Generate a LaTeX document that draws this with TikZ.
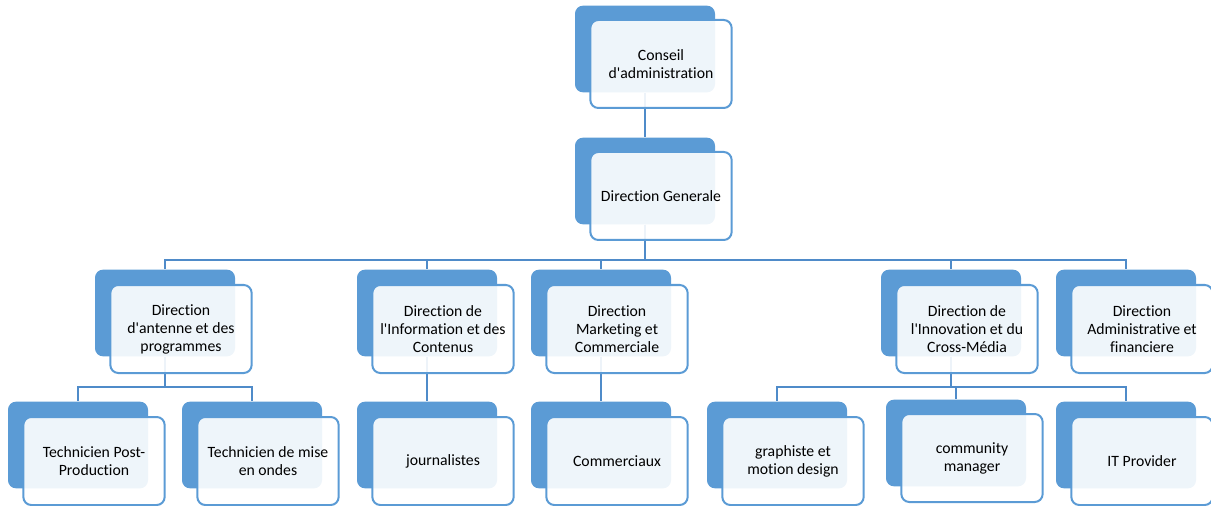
\documentclass[tikz,border=0pt]{standalone}
\usepackage{fontspec}
\setmainfont{Carlito}[Ligatures={NoCommon,TeXOff}]
\usetikzlibrary{backgrounds}

\definecolor{boxblue}{HTML}{5B9BD5}
\definecolor{linkblue}{HTML}{4F8BC9}

\tikzset{
  backbox/.style={fill=boxblue, rounded corners=6pt, minimum width=105pt,
    minimum height=65pt, inner sep=0pt},
  frontbox/.style={draw=boxblue, line width=1.5pt, fill=white, fill opacity=0.9,
    text opacity=1, rounded corners=6pt, minimum width=106pt, minimum height=66pt,
    inner sep=0pt, align=center, font=\fontsize{11.8}{13.5}\selectfont},
  link/.style={draw=linkblue, line width=1.5pt}
}

\begin{document}
\begin{tikzpicture}[x=0.75pt,y=-0.75pt]
        \useasboundingbox (0,0) rectangle (1211,506);

        % top
        \node[backbox] (ca) at (645,49) {};
        \node[frontbox] (ca-t) at (661,64) {Conseil\\d'administration};
        \node[backbox] (dg) at (645,181) {};
        \node[frontbox] (dg-t) at (661,196) {Direction Generale};

        % directions
        \node[backbox] (antenne) at (165,313) {};
        \node[frontbox] (antenne-t) at (181,329) {Direction\\d'antenne et des\\programmes};
        \node[backbox] (info) at (427,313) {};
        \node[frontbox] (info-t) at (443,329) {Direction de\\l'Information et des\\Contenus};
        \node[backbox] (mkt) at (601,313) {};
        \node[frontbox] (mkt-t) at (617,329) {Direction\\Marketing et\\Commerciale};
        \node[backbox] (innov) at (951,313) {};
        \node[frontbox] (innov-t) at (967,329) {Direction de\\l'Innovation et du\\Cross-Média};
        \node[backbox] (admin) at (1126,313) {};
        \node[frontbox] (admin-t) at (1142,329) {Direction\\Administrative et\\financiere};

        % services
        \node[backbox] (tpp) at (78,445) {};
        \node[frontbox] (tpp-t) at (94,461) {Technicien Post-\\Production};
        \node[backbox] (tmo) at (252,445) {};
        \node[frontbox] (tmo-t) at (268,461) {Technicien de mise\\en ondes};
        \node[backbox] (journ) at (427,445) {};
        \node[frontbox] (journ-t) at (443,461) {journalistes};
        \node[backbox] (comm) at (601,445) {};
        \node[frontbox] (comm-t) at (617,461) {Commerciaux};
        \node[backbox] (graph) at (777,445) {};
        \node[frontbox] (graph-t) at (793,461) {graphiste et\\motion design};
        \node[backbox] (cm) at (956,443) {};
        \node[frontbox] (cm-t) at (972,458) {community\\manager};
        \node[backbox] (itp) at (1126,445) {};
        \node[frontbox] (itp-t) at (1142,461) {IT Provider};

        \begin{pgfonlayer}{background}
        \draw[link] (ca.south) -- (dg.north);

        \draw[link] (dg.south) -- ++(0,35) -| (antenne.north);
        \draw[link] (dg.south) -- ++(0,35) -| (info.north);
        \draw[link] (dg.south) -- ++(0,35) -| (mkt.north);
        \draw[link] (dg.south) -- ++(0,35) -| (innov.north);
        \draw[link] (dg.south) -- ++(0,35) -| (admin.north);

        \draw[link] (antenne.south) -- ++(0,30) -| (tpp.north);
        \draw[link] (antenne.south) -- ++(0,30) -| (tmo.north);
        \draw[link] (info.south) -- (journ.north);
        \draw[link] (mkt.south) -- (comm.north);
        \draw[link] (innov.south) -- ++(0,30) -| (graph.north);
        \draw[link] (innov.south) -- ++(0,30) -| (cm.north);
        \draw[link] (innov.south) -- ++(0,30) -| (itp.north);
        \end{pgfonlayer}
      \end{tikzpicture}
\end{document}
